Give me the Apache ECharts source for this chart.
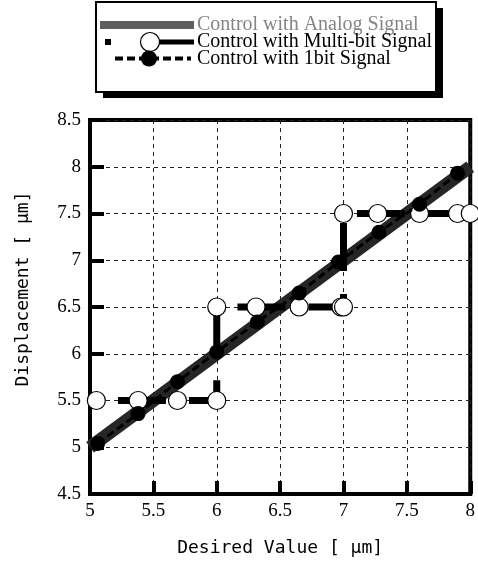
<!DOCTYPE html>
<html>
<head>
<meta charset="utf-8">
<script src="https://cdn.jsdelivr.net/npm/echarts@6/dist/echarts.min.js"></script>
<style>
    html, body {margin: 0; padding: 0; background: #fff;}
    #main {width: 478px; height: 562px;}
</style>
</head>
<body>
<div id="main"></div>
<script>
// axis ticks
var xTicks = [5, 5.5, 6, 6.5, 7, 7.5, 8];
var yTicks = [4.5, 5, 5.5, 6, 6.5, 7, 7.5, 8, 8.5];
var seriesNames = ['Control with Analog Signal', 'Control with Multi-bit Signal', 'Control with 1bit Signal'];

// analog: ideal straight line
var analogX = [5, 8];
var analogY = [5, 8];

// multi-bit: quantised steps (0.5 um)
var multiX = [5.05, 5.38, 5.69, 6.0, 6.0, 6.31, 6.65, 6.98, 7.0, 7.0, 7.27, 7.6, 7.9, 8.0];
var multiY = [5.5, 5.5, 5.5, 5.5, 6.5, 6.5, 6.5, 6.5, 6.5, 7.5, 7.5, 7.5, 7.5, 7.5];

// 1bit
var oneBitX = [5.06, 5.38, 5.69, 6.0, 6.32, 6.65, 6.96, 7.28, 7.6, 7.9];
var oneBitY = [5.04, 5.36, 5.7, 6.02, 6.34, 6.65, 6.98, 7.3, 7.6, 7.93];

function pairs(xs, ys) {
    var out = [];
    for (var i = 0; i < xs.length; i++) {
        out.push([xs[i], ys[i]]);
    }
    return out;
}

var serif = '"Liberation Serif", "Times New Roman", serif';
var mono = '"DejaVu Sans Mono", monospace';

var myChart = echarts.init(document.getElementById('main'));
myChart.setOption({
    animation: false,
    backgroundColor: '#fff',
    grid: {
        left: 90,
        right: 6,
        top: 120,
        bottom: 66,
        show: true,
        borderColor: '#000',
        borderWidth: 4,
        backgroundColor: 'transparent'
    },
    xAxis: {
        type: 'value',
        min: xTicks[0],
        max: xTicks[xTicks.length - 1],
        interval: xTicks[1] - xTicks[0],
        name: 'Desired Value [ \u03bcm]',
        nameLocation: 'middle',
        nameGap: 45,
        nameTextStyle: {fontFamily: mono, fontSize: 18, color: '#000'},
        axisLine: {lineStyle: {color: '#000', width: 4}},
        axisTick: {inside: true, length: 13, lineStyle: {color: '#000', width: 4}},
        axisLabel: {fontFamily: serif, fontSize: 19, color: '#000', margin: 8},
        splitLine: {show: true, lineStyle: {color: '#222', width: 1, type: [4, 4]}}
    },
    yAxis: {
        type: 'value',
        min: yTicks[0],
        max: yTicks[yTicks.length - 1],
        interval: yTicks[1] - yTicks[0],
        name: 'Displacement [ \u03bcm]',
        nameLocation: 'middle',
        nameGap: 58,
        nameTextStyle: {fontFamily: mono, fontSize: 18, color: '#000', padding: [0, 0, 0, 36]},
        axisLine: {lineStyle: {color: '#000', width: 4}},
        axisTick: {inside: true, length: 14, lineStyle: {color: '#000', width: 4}},
        axisLabel: {fontFamily: serif, fontSize: 19, color: '#000', margin: 9},
        splitLine: {show: true, lineStyle: {color: '#222', width: 1, type: [4, 4]}}
    },
    series: [{
        name: seriesNames[0],
        type: 'line',
        data: pairs(analogX, analogY),
        showSymbol: false,
        symbol: 'none',
        lineStyle: {color: '#262626', width: 13, opacity: 1},
        z: 2
    }, {
        name: seriesNames[1],
        type: 'line',
        data: pairs(multiX, multiY),
        clip: false,
        symbol: 'circle',
        symbolSize: 18,
        itemStyle: {color: '#fff', borderColor: '#000', borderWidth: 1.2},
        lineStyle: {color: '#000', width: 7, type: [48, 23], dashOffset: 49.4},
        z: 3
    }, {
        name: seriesNames[2],
        type: 'line',
        data: pairs(oneBitX, oneBitY),
        symbol: 'circle',
        symbolSize: 15,
        itemStyle: {color: '#000'},
        lineStyle: {color: '#000', width: 3, type: [8, 4]},
        z: 4
    }],
    // legend box drawn by hand (shadowed frame like the original)
    graphic: [
        {type: 'rect', z: 10, shape: {x: 103, y: 8, width: 340, height: 90}, style: {fill: '#000'}},
        {type: 'rect', z: 11, shape: {x: 96, y: 2, width: 340, height: 90}, style: {fill: '#fff', stroke: '#000', lineWidth: 2}},
        // analog
        {type: 'rect', z: 12, shape: {x: 100, y: 21, width: 94, height: 8}, style: {fill: '#5e5e5e'}},
        {type: 'text', z: 12, x: 197, y: 25, style: {text: seriesNames[0], font: '20px ' + serif, fill: '#858585', verticalAlign: 'middle'}},
        // multi-bit
        {type: 'rect', z: 12, shape: {x: 105, y: 39, width: 6, height: 6}, style: {fill: '#000'}},
        {type: 'line', z: 12, shape: {x1: 150, y1: 42, x2: 194, y2: 42}, style: {stroke: '#000', lineWidth: 5}},
        {type: 'circle', z: 13, shape: {cx: 150, cy: 42, r: 9.5}, style: {fill: '#fff', stroke: '#000', lineWidth: 1.2}},
        {type: 'text', z: 12, x: 197, y: 42, style: {text: seriesNames[1], font: '20px ' + serif, fill: '#000', verticalAlign: 'middle'}},
        // 1bit
        {type: 'line', z: 12, shape: {x1: 115, y1: 58.5, x2: 191, y2: 58.5}, style: {stroke: '#000', lineWidth: 4, lineDash: [8, 4]}},
        {type: 'circle', z: 13, shape: {cx: 149, cy: 58.5, r: 8}, style: {fill: '#000'}},
        {type: 'text', z: 12, x: 197, y: 58.5, style: {text: seriesNames[2], font: '20px ' + serif, fill: '#000', verticalAlign: 'middle'}}
    ]
});
</script>
</body>
</html>
